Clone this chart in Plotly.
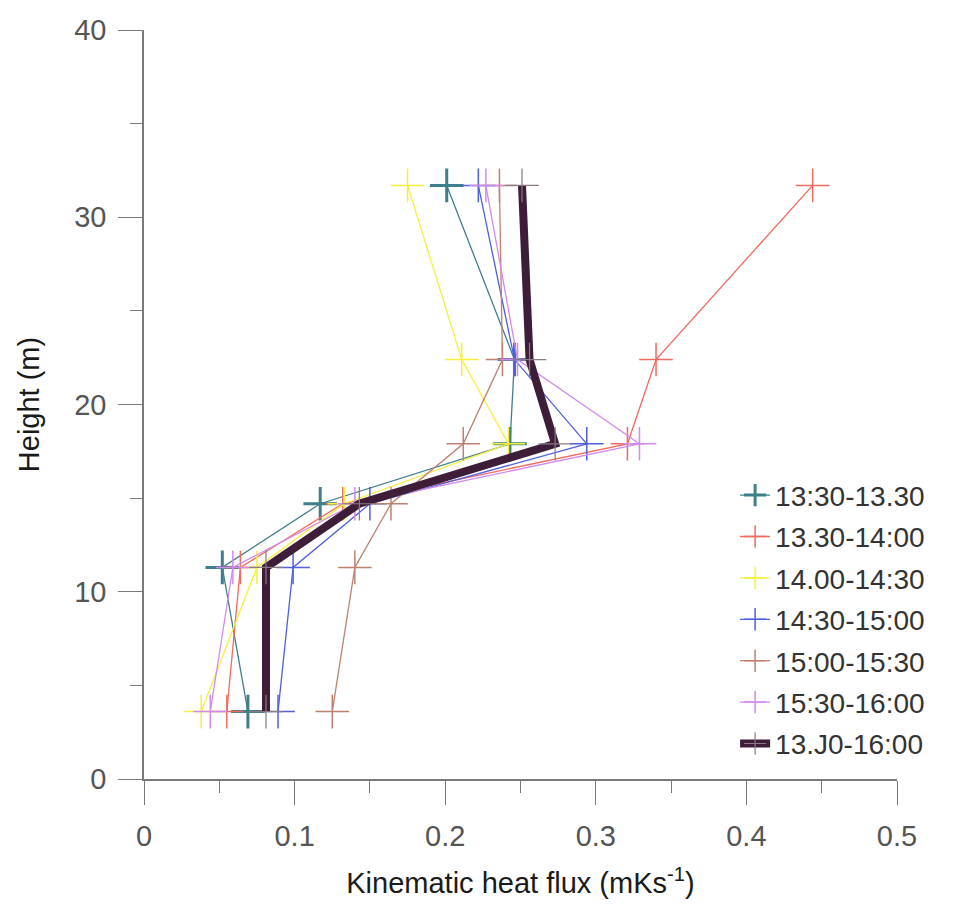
import plotly.graph_objects as go

heights = [3.6, 11.3, 14.7, 17.9, 22.4, 31.7]

series_names = ["13:30-13.30", "13.30-14:00", "14.00-14:30", "14:30-15:00",
                "15:00-15:30", "15:30-16:00", "13.J0-16:00"]

flux_1330_1330 = [0.069, 0.052, 0.117, 0.243, 0.246, 0.201]
flux_1330_1400 = [0.055, 0.064, 0.132, 0.321, 0.340, 0.444]
flux_1400_1430 = [0.038, 0.075, 0.133, 0.242, 0.211, 0.175]
flux_1430_1500 = [0.089, 0.099, 0.150, 0.294, 0.246, 0.222]
flux_1500_1530 = [0.125, 0.140, 0.164, 0.212, 0.238, 0.236]
flux_1530_1600 = [0.044, 0.059, 0.140, 0.329, 0.248, 0.227]
flux_1300_1600 = [0.081, 0.081, 0.143, 0.273, 0.256, 0.251]

all_flux = [flux_1330_1330, flux_1330_1400, flux_1400_1430, flux_1430_1500,
            flux_1500_1530, flux_1530_1600, flux_1300_1600]

x_tick_vals = [0, 0.1, 0.2, 0.3, 0.4, 0.5]
x_tick_text = ["0", "0.1", "0.2", "0.3", "0.4", "0.5"]
y_tick_vals = [0, 10, 20, 30, 40]

colors = ["#3f7f8c", "#f06a5e", "#f6f03a", "#4f5fe0", "#c08070", "#d28af0", "#3e1d38"]
line_widths = [1.3, 1.3, 1.3, 1.3, 1.3, 1.3, 8]
marker_widths = [3, 1.5, 1.5, 1.5, 1.5, 1.5, 1.2]
marker_colors = colors[:6] + ["#8a7a86"]

fig = go.Figure()
for i, (name, fx) in enumerate(zip(series_names, all_flux)):
    fig.add_trace(go.Scatter(
        x=fx, y=heights, name=name, mode="lines+markers",
        line=dict(color=colors[i], width=line_widths[i]),
        marker=dict(symbol="cross-thin", size=24,
                    line=dict(width=marker_widths[i], color=marker_colors[i])),
        legendgroup=name,
    ))

axis_common = dict(
    showline=True, linecolor="#7a7a7a", linewidth=1.5,
    ticks="outside", ticklen=24, tickwidth=1.2, tickcolor="#7a7a7a",
    showgrid=False, zeroline=False, automargin=False,
    ticklabelstandoff=6,
    tickfont=dict(family="Liberation Sans, Arial", size=29, color="#555555"),
)

fig.update_layout(
    width=953, height=909,
    margin=dict(l=136, r=64, t=22, b=138),
    paper_bgcolor="white", plot_bgcolor="white",
    font=dict(family="Liberation Sans, Arial", color="#222222"),
    xaxis=dict(range=[0, 0.5], tickvals=x_tick_vals, ticktext=x_tick_text,
               minor=dict(dtick=0.05, ticklen=12, ticks="outside", tickcolor="#7a7a7a"),
               title=dict(text="Kinematic heat flux (mKs<sup>-1</sup>)",
                          font=dict(size=29, color="#1a1a1a"), standoff=22),
               **axis_common),
    yaxis=dict(range=[0, 40], tickvals=y_tick_vals,
               minor=dict(dtick=5, ticklen=12, ticks="outside", tickcolor="#7a7a7a"),
               title=dict(text="Height (m)", font=dict(size=29, color="#1a1a1a"), standoff=26),
               **axis_common),
    legend=dict(x=0.785, y=0.412, xanchor="left", yanchor="top",
                font=dict(size=28, color="#333333"),
                bgcolor="rgba(255,255,255,0)", tracegroupgap=2),
    showlegend=True,
)

fig.write_html("out.html")
